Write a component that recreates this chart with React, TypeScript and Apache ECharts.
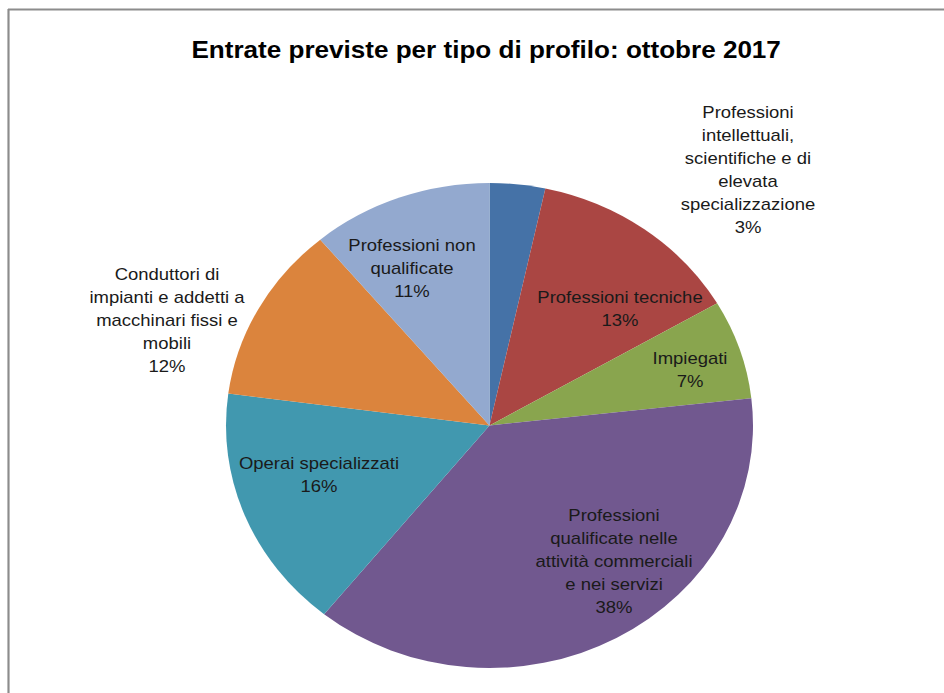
import React, { useEffect, useRef } from "react";
import * as echarts from "echarts";

const TITLE = "Entrate previste per tipo di profilo: ottobre 2017";

const categories = [
  "Professioni intellettuali, scientifiche e di elevata specializzazione",
  "Professioni tecniche",
  "Impiegati",
  "Professioni qualificate nelle attività commerciali e nei servizi",
  "Operai specializzati",
  "Conduttori di impianti e addetti a macchinari fissi e mobili",
  "Professioni non qualificate",
];

const shares = [3.4, 13.2, 6.6, 37.6, 16.3, 11.8, 11.1];

const labelLines = [
  ["Professioni", "intellettuali,", "scientifiche e di", "elevata", "specializzazione"],
  ["Professioni tecniche"],
  ["Impiegati"],
  ["Professioni", "qualificate nelle", "attività commerciali", "e nei servizi"],
  ["Operai specializzati"],
  ["Conduttori di", "impianti e addetti a", "macchinari fissi e", "mobili"],
  ["Professioni non", "qualificate"],
];

const colors = ["#4572A7", "#AA4643", "#89A54E", "#71588F", "#4198AF", "#DB843D", "#93A9CF"];

// horizontal stretch of the original picture (pie is drawn as an ellipse)
const SX = 1.0866;
const W = 944;
const H = 693;
const CW = W / SX;

// label block centres in page pixels
const labelPos: [number, number][] = [
  [748, 170],
  [620, 309],
  [690, 370],
  [614, 561],
  [319, 475],
  [167, 320],
  [412, 268],
];

export default function App() {
  const ref = useRef<HTMLDivElement>(null);
  useEffect(() => {
    document.body.style.margin = "0";
    const chart = echarts.init(ref.current!, null, { renderer: "svg" });
    const font = "'Liberation Sans', Arial, sans-serif";
    chart.setOption({
      animation: false,
      backgroundColor: "#ffffff",
      title: {
        text: TITLE,
        left: 186 / SX,
        top: 32,
        textStyle: { fontFamily: font, fontSize: 24, fontWeight: "bold", color: "#000" },
      },
      graphic: [
        { type: "line", shape: { x1: 8 / SX, y1: 9.5, x2: CW, y2: 9.5 }, style: { stroke: "#8c8c8c", lineWidth: 2 } },
        { type: "line", shape: { x1: 8.5 / SX, y1: 9, x2: 8.5 / SX, y2: H }, style: { stroke: "#8c8c8c", lineWidth: 2 } },
      ],
      series: [
        {
          type: "pie",
          center: [489.5 / SX, 425.5],
          radius: 242.5,
          startAngle: 90,
          clockwise: true,
          label: {
            show: true,
            position: "inside",
            fontFamily: font,
            fontSize: 17,
            lineHeight: 23,
            color: "#1a1a1a",
            align: "center",
            formatter: (p: any) => labelLines[p.dataIndex].join("\n") + "\n" + Math.round(p.percent) + "%",
          },
          labelLine: { show: false },
          labelLayout: (p: any) => ({
            x: labelPos[p.dataIndex][0] / SX,
            y: labelPos[p.dataIndex][1],
            align: "center",
            verticalAlign: "middle",
          }),
          emphasis: { disabled: true },
          itemStyle: { borderWidth: 0 },
          data: categories.map((name, i) => ({ name, value: shares[i], itemStyle: { color: colors[i] } })),
        },
      ],
    });
    return () => chart.dispose();
  }, []);
  return (
    <div style={{ position: "absolute", left: 0, top: 0, width: W, height: H, overflow: "hidden" }}>
      <div
        ref={ref}
        style={{ width: CW, height: H, transform: `scaleX(${SX})`, transformOrigin: "0 0" }}
      />
    </div>
  );
}
